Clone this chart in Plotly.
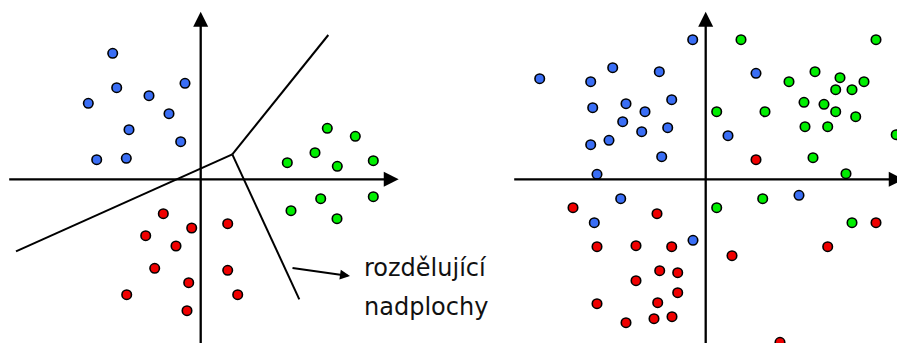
import plotly.graph_objects as go

# ---- Left panel: separable classes (units: origin at axes crossing) ----
L_blue_x = [-8.8, -8.4, -1.57, -11.24, -5.17, -3.17, -7.17, -2.0, -10.4, -7.44]
L_blue_y = [12.6, 9.16, 9.6, 7.6, 8.36, 6.56, 4.96, 3.76, 1.96, 2.1]
L_green_x = [12.66, 15.46, 11.43, 8.66, 13.66, 17.26, 12.0, 17.26, 9.03, 13.63]
L_green_y = [5.1, 4.3, 2.66, 1.66, 1.3, 1.86, -1.94, -1.74, -3.14, -3.94]
L_red_x = [-3.74, -0.9, 2.7, -5.5, -2.47, -4.6, 2.7, -1.2, -7.4, 3.7, -1.37]
L_red_y = [-3.44, -4.87, -4.44, -5.64, -6.67, -8.9, -9.1, -10.34, -11.54, -11.54, -13.14]

# separating hyperplanes: three rays from a junction
junction = (3.16, 2.5)
ray_ends_x = [-18.47, 12.76, 9.86]
ray_ends_y = [-7.2, 14.43, -12.0]

# ---- Right panel: overlapping classes ----
R_blue_x = [-1.3, -16.6, -9.3, -11.5, -4.64, 5.03, -11.3, -7.97, -6.07, -3.4, -8.3,
            -6.4, -3.8, 2.23, -11.5, -9.67, -4.4, -10.87, -8.5, -11.14, -1.27, 9.33]
R_blue_y = [13.96, 10.06, 11.16, 9.76, 10.76, 10.6, 7.16, 7.56, 6.76, 7.96, 5.76,
            4.76, 5.16, 4.36, 3.46, 3.9, 2.26, 0.5, -1.94, -4.34, -6.1, -1.6]
R_green_x = [3.53, 17.03, 10.93, 8.33, 13.43, 15.83, 13.0, 14.63, 1.1, 5.93, 9.83,
             11.83, 13.0, 15.0, 9.93, 12.2, 19.05, 10.73, 14.03, 5.7, 1.1, 14.63]
R_green_y = [13.96, 13.96, 10.76, 9.76, 10.16, 9.76, 8.96, 8.96, 6.76, 6.76, 7.7,
             7.5, 6.76, 6.26, 5.26, 5.26, 4.46, 2.16, 0.56, -1.94, -2.84, -4.34]
R_red_x = [5.03, -13.27, -4.87, 17.03, -10.87, -6.97, -3.4, 12.2, 2.63, -4.6, -2.8,
           -6.97, -2.8, -10.87, -4.8, -7.97, -5.17, -3.37, 7.43]
R_red_y = [1.96, -2.84, -3.44, -4.34, -6.74, -6.64, -6.74, -6.74, -7.64, -9.14, -9.34,
           -10.14, -11.34, -12.44, -12.34, -14.34, -13.94, -13.74, -16.3]

label_lines = ["rozdělující", "nadplochy"]

BLUE = "#3a6ef5"
GREEN = "#00ee00"
RED = "#f00000"

fig = go.Figure()

def pts(x, y, color, xa):
    fig.add_trace(go.Scatter(
        x=x, y=y, mode="markers", xaxis=xa, yaxis="y",
        marker=dict(size=9.5, color=color, line=dict(color="black", width=1.6)),
        hoverinfo="skip", showlegend=False, cliponaxis=False))

# boundary rays
for ex, ey in zip(ray_ends_x, ray_ends_y):
    fig.add_trace(go.Scatter(
        x=[junction[0], ex], y=[junction[1], ey], mode="lines", xaxis="x", yaxis="y",
        line=dict(color="black", width=2), hoverinfo="skip", showlegend=False))

pts(L_blue_x, L_blue_y, BLUE, "x")
pts(L_green_x, L_green_y, GREEN, "x")
pts(L_red_x, L_red_y, RED, "x")
pts(R_blue_x, R_blue_y, BLUE, "x2")
pts(R_green_x, R_green_y, GREEN, "x2")
pts(R_red_x, R_red_y, RED, "x2")

annotations = []

def arrow(xa, x0, y0, x1, y1, width, size):
    annotations.append(dict(
        xref=xa, yref="y", axref=xa, ayref="y",
        x=x1, y=y1, ax=x0, ay=y0, text="", showarrow=True,
        arrowhead=2, arrowwidth=width, arrowsize=size, arrowcolor="black",
        standoff=0, startstandoff=0))

# coordinate axes with arrow heads
for xa in ("x", "x2"):
    arrow(xa, -19.3, 0, 19.8, 0, 2.3, 1.3)
    arrow(xa, 0, -17.5, 0, 16.75, 2.3, 1.3)

# pointer to the hyperplanes
arrow("x", 9.03, -8.84, 14.93, -9.67, 2, 1.0)

for t, yy in zip(label_lines, [-8.87, -12.75]):
    annotations.append(dict(
        xref="x", yref="y", x=16.1, y=yy, text=t, showarrow=False,
        xanchor="left", yanchor="middle",
        font=dict(family="DejaVu Sans", size=24, color="#111111")))

fig.update_layout(
    width=897, height=343,
    margin=dict(l=0, r=0, t=0, b=0),
    paper_bgcolor="white", plot_bgcolor="white",
    xaxis=dict(domain=[0, 450 / 897], range=[-20.07, 24.93], visible=False),
    xaxis2=dict(domain=[450 / 897, 1], range=[-25.57, 19.13], visible=False, anchor="y"),
    yaxis=dict(domain=[0, 1], range=[-16.37, 17.93], visible=False),
    annotations=annotations,
    hovermode=False,
)

fig.write_html("out.html",
               config={"displayModeBar": False, "staticPlot": True},
               post_script="document.body.style.margin='0';document.body.style.overflow='hidden';")
